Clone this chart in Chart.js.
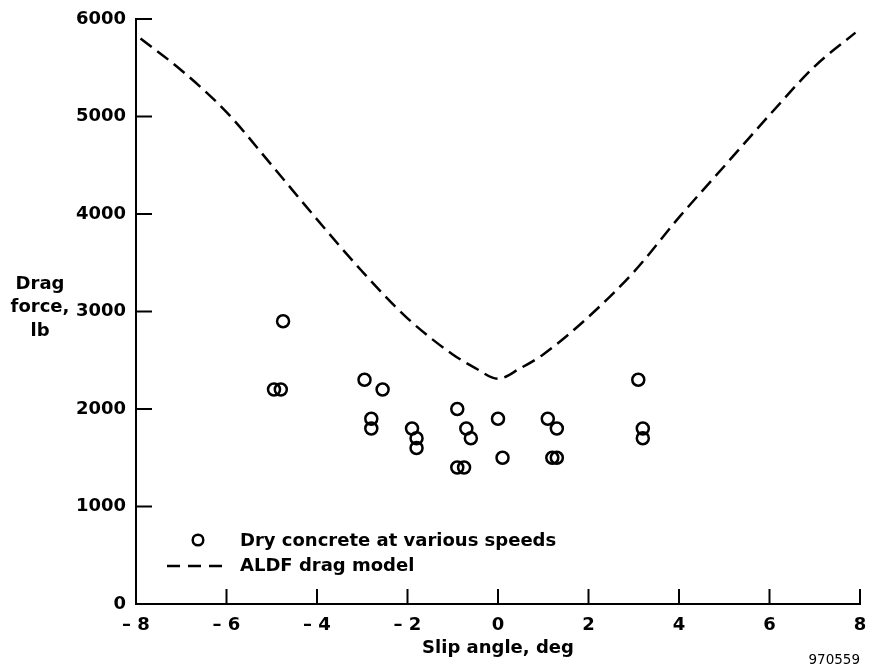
<!DOCTYPE html>
<html>
<head>
<meta charset="utf-8">
<script src="https://cdn.jsdelivr.net/npm/chart.js@4/dist/chart.umd.min.js"></script>
<style>
  html, body { margin: 0; padding: 0; background: #fff; }
  #wrap { width: 870px; height: 671px; position: relative; }
</style>
</head>
<body>
<div id="wrap"><canvas id="dragChart"></canvas></div>
<script>
// measured points, dry concrete
var slip_list = [-4.75, -4.95, -4.8, -2.95, -2.55, -2.8, -2.8, -1.9, -1.8, -1.8, -0.9, -0.7, -0.6, -0.9, -0.75, 0, 0.1, 1.1, 1.3, 1.2, 1.3, 3.1, 3.2, 3.2];
var drag_list = [2900, 2200, 2200, 2300, 2200, 1900, 1800, 1800, 1700, 1600, 2000, 1800, 1700, 1400, 1400, 1900, 1500, 1900, 1800, 1500, 1500, 2300, 1800, 1700];

// ALDF model curve
var model_slip = [-7.9, -7, -6, -5, -4, -3, -2, -1, -0.5, 0, 0.5, 1, 2, 3, 4, 5, 6, 7, 7.9];
var model_drag = [5800, 5475, 5045, 4500, 3945, 3410, 2930, 2560, 2420, 2310, 2420, 2560, 2945, 3405, 3965, 4490, 5015, 5515, 5860];

var x_label = 'Slip angle, deg';
var y_label = ['Drag', 'force,', 'lb'];
var legend_labels = ['Dry concrete at various speeds', 'ALDF drag model'];
var fig_number = '970559';

var FONT = "'DejaVu Sans', Verdana, sans-serif";

var measured = [];
for (var i = 0; i < slip_list.length; i++) {
	measured.push({x: slip_list[i], y: drag_list[i]});
}
var model = [];
for (var k = 0; k < model_slip.length; k++) {
	model.push({x: model_slip[k], y: model_drag[k]});
}

function fmt_slip(v) {
	if (v < 0) return '\u2013 ' + (-v);
	return '' + v;
}

// inward ticks, y label, legend, figure number
var extras = {
	id: 'extras',
	afterDraw: function(chart) {
		var c = chart.ctx;
		var xs = chart.scales.x, ys = chart.scales.y;
		var a = chart.chartArea;
		c.save();
		c.strokeStyle = '#000';
		c.lineWidth = 2;
		c.setLineDash([]);
		xs.ticks.forEach(function(t) {
			var px = xs.getPixelForValue(t.value);
			c.beginPath(); c.moveTo(px, a.bottom); c.lineTo(px, a.bottom - 15); c.stroke();
		});
		ys.ticks.forEach(function(t) {
			var py = ys.getPixelForValue(t.value);
			c.beginPath(); c.moveTo(a.left, py); c.lineTo(a.left + 16, py); c.stroke();
		});

		c.fillStyle = '#000';
		c.font = 'bold 18px ' + FONT;
		c.textAlign = 'center';
		c.textBaseline = 'middle';
		for (var j = 0; j < y_label.length; j++) {
			c.fillText(y_label[j], 40, 284 + j * 23.5);
		}

		// legend
		c.textAlign = 'left';
		c.fillText(legend_labels[0], 240, 541);
		c.fillText(legend_labels[1], 240, 566);
		c.lineWidth = 2.5;
		c.beginPath();
		c.arc(198, 540, 5.3, 0, Math.PI * 2);
		c.stroke();
		c.setLineDash([13, 8]);
		c.beginPath(); c.moveTo(167, 566); c.lineTo(223, 566); c.stroke();

		c.setLineDash([]);
		c.font = '13.5px ' + FONT;
		c.textAlign = 'right';
		c.fillText(fig_number, 860, 660);
		c.restore();
	}
};

Chart.defaults.font.family = FONT;
Chart.defaults.color = '#000';

new Chart(document.getElementById('dragChart'), {
	type: 'scatter',
	data: {
		datasets: [{
			label: legend_labels[0],
			data: measured,
			pointStyle: 'circle',
			pointRadius: 6,
			pointHoverRadius: 6,
			borderColor: '#000',
			backgroundColor: 'rgba(0,0,0,0)',
			borderWidth: 2.5,
			showLine: false
		}, {
			label: legend_labels[1],
			data: model,
			showLine: true,
			pointRadius: 0,
			borderColor: '#000',
			borderWidth: 2.5,
			borderDash: [14, 7],
			cubicInterpolationMode: 'monotone',
			fill: false
		}]
	},
	options: {
		responsive: true,
		maintainAspectRatio: false,
		animation: false,
		layout: { padding: { top: 19, right: 10, left: 0, bottom: 0 } },
		plugins: {
			legend: { display: false },
			tooltip: { enabled: false }
		},
		scales: {
			x: {
				type: 'linear',
				min: -8, max: 8,
				grid: { drawOnChartArea: false, drawTicks: false },
				border: { display: true, color: '#000', width: 2 },
				ticks: {
					stepSize: 2,
					padding: 11,
					font: { size: 18, weight: 'bold' },
					callback: fmt_slip
				},
				title: {
					display: true,
					text: x_label,
					font: { size: 18, weight: 'bold' },
					padding: { top: 0, bottom: 12 }
				},
				afterFit: function(s) { s.height = 67; s.paddingLeft = 0; s.paddingRight = 0; }
			},
			y: {
				min: 0, max: 6000,
				grid: { drawOnChartArea: false, drawTicks: false },
				border: { display: true, color: '#000', width: 2 },
				ticks: {
					stepSize: 1000,
					padding: 10,
					font: { size: 18, weight: 'bold' },
					callback: function(v) { return '' + v; }
				},
				afterFit: function(s) { s.width = 136; s.paddingTop = 0; s.paddingBottom = 0; }
			}
		}
	},
	plugins: [extras]
});
</script>
</body>
</html>
